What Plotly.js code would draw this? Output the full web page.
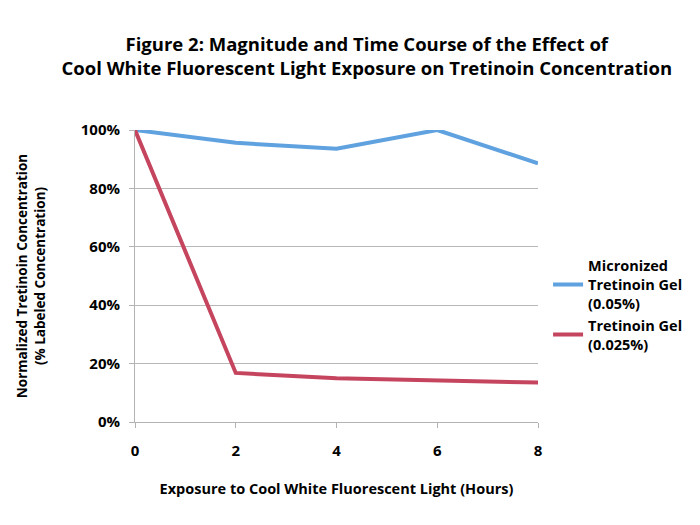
<!DOCTYPE html>
<html>
<head>
<meta charset="utf-8">
<script src="https://cdn.plot.ly/plotly-3.0.1.min.js"></script>
<style>html,body{margin:0;padding:0;background:#fff;}#chart{width:700px;height:525px;}</style>
</head>
<body>
<div id="chart"></div>
<script>
const hours = [0, 2, 4, 6, 8];
const micronized = [1.00, 0.956, 0.936, 1.00, 0.886];
const tretinoin = [1.00, 0.168, 0.150, 0.141, 0.135];
const seriesNames = ["Micronized<br>Tretinoin Gel<br>(0.05%)", "Tretinoin Gel<br>(0.025%)"];
const yTicks = [0, 0.2, 0.4, 0.6, 0.8, 1.0];
const yTickText = ["0%", "20%", "40%", "60%", "80%", "100%"];

const font = "Open Sans, Lato, Liberation Sans, sans-serif";
const traces = [
  {x: hours, y: micronized, name: seriesNames[0], mode: "lines", line: {color: "#5fa2df", width: 4}},
  {x: hours, y: tretinoin, name: seriesNames[1], mode: "lines", line: {color: "#c5455f", width: 4}}
];
const layout = {
  width: 700, height: 525,
  margin: {l: 135, r: 162, t: 130, b: 103},
  paper_bgcolor: "#fff", plot_bgcolor: "#fff",
  font: {family: font, color: "#111", size: 14},
  title: {text: "<b>Figure 2: Magnitude and Time Course of the Effect of<br>Cool White Fluorescent Light Exposure on Tretinoin Concentration</b>",
          x: 0.524, xanchor: "center", yref: "container", y: 0.903, yanchor: "top", font: {size: 18.5, family: font, color: "#000"}},
  xaxis: {range: [0, 8], tickvals: hours, ticktext: hours.map(String), showgrid: false, zeroline: false,
          showline: true, linecolor: "#b3b3b3", ticks: "outside", ticklen: 5, tickcolor: "#b3b3b3",
          ticklabelstandoff: 10,
          tickfont: {size: 15, family: font, weight: "bold", color: "#000"},
          title: {text: "<b>Exposure to Cool White Fluorescent Light (Hours)</b>", standoff: 24, font: {size: 14.5, family: font, color: "#000"}}},
  yaxis: {range: [0, 1.0], tickvals: yTicks, ticktext: yTickText, showgrid: true, gridcolor: "#b8b8b8", gridwidth: 1,
          zeroline: false, showline: true, linecolor: "#b3b3b3", ticks: "outside", ticklen: 5, tickcolor: "#b3b3b3",
          ticklabelstandoff: 6,
          tickfont: {size: 15, family: font, weight: "bold", color: "#000"},
          title: {text: "<b>Normalized Tretinoin Concentration<br>(% Labeled Concentration)</b>", standoff: 32, font: {size: 13.5, family: font, color: "#000"}}},
  showlegend: true,
  legend: {x: 1.025, y: 0.40, xanchor: "left", yanchor: "middle", font: {size: 14.5, family: font, weight: "bold", color: "#000"},
           tracegroupgap: 30, itemwidth: 30, borderwidth: 0, bgcolor: "rgba(0,0,0,0)"}
};
Plotly.newPlot("chart", traces, layout, {staticPlot: true, displayModeBar: false});
</script>
</body>
</html>
